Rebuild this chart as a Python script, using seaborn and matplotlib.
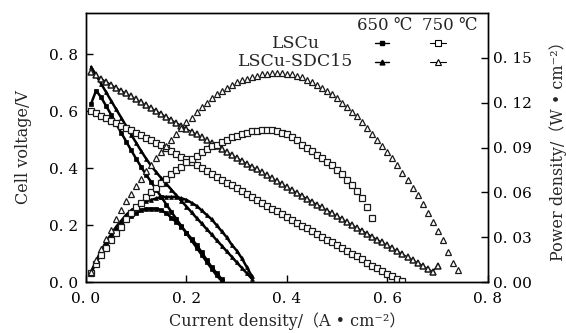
import matplotlib
matplotlib.use('Agg')
import matplotlib.pyplot as plt
import seaborn as sns
from matplotlib.ticker import FuncFormatter, MultipleLocator

# current density grid (A/cm2), each series uses the first len(values) points
current = [0.01, 0.02, 0.03, 0.04, 0.05, 0.06, 0.07, 0.08, 0.09, 0.10,
           0.11, 0.12, 0.13, 0.14, 0.15, 0.16, 0.17, 0.18, 0.19, 0.20,
           0.21, 0.22, 0.23, 0.24, 0.25, 0.26, 0.27, 0.28, 0.29, 0.30,
           0.31, 0.32, 0.33, 0.34, 0.35, 0.36, 0.37, 0.38, 0.39, 0.40,
           0.41, 0.42, 0.43, 0.44, 0.45, 0.46, 0.47, 0.48, 0.49, 0.50,
           0.51, 0.52, 0.53, 0.54, 0.55, 0.56, 0.57, 0.58, 0.59, 0.60,
           0.61, 0.62, 0.63, 0.64, 0.65, 0.66, 0.67, 0.68, 0.69, 0.70,
           0.71, 0.72, 0.73, 0.74]

# 650 C, LSCu (filled squares)
v_lscu_650 = [0.625, 0.672, 0.648, 0.618, 0.587, 0.555, 0.524, 0.493, 0.462, 0.432,
              0.403, 0.376, 0.350, 0.324, 0.298, 0.272, 0.246, 0.221, 0.196, 0.171,
              0.146, 0.121, 0.096, 0.071, 0.047, 0.023, 0.004]
p_lscu_650 = [0.006, 0.013, 0.019, 0.025, 0.030, 0.034, 0.038, 0.042, 0.044, 0.046,
              0.048, 0.049, 0.049, 0.049, 0.048, 0.046, 0.043, 0.040, 0.037, 0.033,
              0.029, 0.025, 0.020, 0.015, 0.010, 0.006, 0.002]

# 650 C, LSCu-SDC15 (filled triangles)
v_sdc_650 = [0.755, 0.726, 0.696, 0.666, 0.636, 0.606, 0.577, 0.547, 0.517, 0.488,
             0.459, 0.432, 0.407, 0.385, 0.364, 0.344, 0.324, 0.304, 0.284, 0.265,
             0.245, 0.225, 0.206, 0.186, 0.167, 0.147, 0.128, 0.108, 0.089, 0.069,
             0.050, 0.031, 0.012]
p_sdc_650 = [0.007, 0.014, 0.021, 0.027, 0.032, 0.037, 0.041, 0.045, 0.048, 0.050,
             0.052, 0.054, 0.055, 0.056, 0.057, 0.057, 0.057, 0.057, 0.056, 0.055,
             0.053, 0.051, 0.048, 0.045, 0.042, 0.038, 0.034, 0.030, 0.025, 0.021,
             0.016, 0.010, 0.004]

# 750 C, LSCu (open squares)
v_lscu_750 = [0.600, 0.592, 0.583, 0.575, 0.566, 0.558, 0.549, 0.541, 0.532, 0.524,
              0.515, 0.507, 0.498, 0.489, 0.480, 0.470, 0.460, 0.450, 0.440, 0.430,
              0.420, 0.409, 0.399, 0.389, 0.379, 0.369, 0.359, 0.349, 0.339, 0.329,
              0.319, 0.309, 0.298, 0.288, 0.278, 0.268, 0.258, 0.248, 0.238, 0.228,
              0.218, 0.208, 0.198, 0.188, 0.178, 0.168, 0.158, 0.148, 0.139, 0.129,
              0.119, 0.109, 0.100, 0.090, 0.080, 0.068, 0.058, 0.048, 0.038, 0.029,
              0.020, 0.012, 0.004]
p_lscu_750 = [0.006, 0.012, 0.018, 0.023, 0.028, 0.033, 0.037, 0.042, 0.046, 0.050,
              0.053, 0.057, 0.060, 0.063, 0.066, 0.069, 0.072, 0.075, 0.077, 0.080,
              0.082, 0.084, 0.087, 0.089, 0.091, 0.092, 0.094, 0.095, 0.097, 0.098,
              0.099, 0.100, 0.101, 0.101, 0.102, 0.102, 0.102, 0.101, 0.100, 0.099,
              0.097, 0.095, 0.092, 0.090, 0.088, 0.085, 0.083, 0.080, 0.078, 0.075,
              0.072, 0.068, 0.065, 0.061, 0.056, 0.050, 0.043]

# 750 C, LSCu-SDC15 (open triangles)
v_sdc_750 = [0.737, 0.725, 0.714, 0.703, 0.693, 0.682, 0.672, 0.662, 0.651, 0.641,
             0.631, 0.620, 0.610, 0.600, 0.590, 0.579, 0.569, 0.559, 0.549, 0.538,
             0.528, 0.518, 0.508, 0.497, 0.487, 0.477, 0.467, 0.456, 0.446, 0.436,
             0.426, 0.415, 0.405, 0.395, 0.385, 0.374, 0.364, 0.354, 0.344, 0.333,
             0.323, 0.313, 0.303, 0.292, 0.282, 0.272, 0.262, 0.251, 0.241, 0.231,
             0.221, 0.210, 0.200, 0.190, 0.180, 0.170, 0.159, 0.149, 0.139, 0.129,
             0.118, 0.108, 0.098, 0.088, 0.078, 0.068, 0.058, 0.047, 0.037, 0.058]
p_sdc_750 = [0.007, 0.015, 0.022, 0.029, 0.035, 0.042, 0.048, 0.054, 0.059, 0.064,
             0.069, 0.074, 0.078, 0.083, 0.087, 0.091, 0.095, 0.099, 0.103, 0.107,
             0.110, 0.114, 0.117, 0.120, 0.123, 0.126, 0.128, 0.130, 0.132, 0.134,
             0.135, 0.136, 0.137, 0.138, 0.139, 0.139, 0.140, 0.140, 0.140, 0.139,
             0.139, 0.138, 0.137, 0.135, 0.134, 0.132, 0.130, 0.128, 0.126, 0.123,
             0.120, 0.117, 0.114, 0.111, 0.107, 0.103, 0.099, 0.095, 0.091, 0.087,
             0.083, 0.078, 0.073, 0.068, 0.063, 0.058, 0.052, 0.046, 0.040, 0.034,
             0.028, 0.020, 0.013, 0.008]

row_labels = ['LSCu', 'LSCu-SDC15']
col_labels = ['650 ℃', '750 ℃']

sns.set_style('ticks')
plt.rcParams['font.family'] = ['DejaVu Serif', 'Noto Sans CJK SC']
plt.rcParams['axes.linewidth'] = 1.0

fig = plt.figure(figsize=(5.66, 3.33), dpi=100)
ax = fig.add_axes([0.152, 0.153, 0.710, 0.808])
ax2 = ax.twinx()

# 650 C curves: dense filled markers look like thick lines
filled = dict(color='black', linewidth=1.8, markersize=2.8, markeredgecolor='black',
              markeredgewidth=0.5, sort=False, estimator=None)
sns.lineplot(x=current[:len(v_lscu_650)], y=v_lscu_650, ax=ax, marker='s', **filled)
sns.lineplot(x=current[:len(v_sdc_650)], y=v_sdc_650, ax=ax, marker='^', **filled)
sns.lineplot(x=current[:len(p_lscu_650)], y=p_lscu_650, ax=ax2, marker='s', **filled)
sns.lineplot(x=current[:len(p_sdc_650)], y=p_sdc_650, ax=ax2, marker='^', **filled)

# 750 C curves: open markers
opened = dict(color='black', linewidth=0, markersize=3.8, markerfacecolor='white',
              markeredgecolor='#1a1a1a', markeredgewidth=0.9, sort=False, estimator=None)
sns.lineplot(x=current[:len(v_lscu_750)], y=v_lscu_750, ax=ax, marker='s', **opened)
sns.lineplot(x=current[:len(p_lscu_750)], y=p_lscu_750, ax=ax2, marker='s', **opened)
sns.lineplot(x=current[:len(p_sdc_750)], y=p_sdc_750, ax=ax2, marker='^', **opened)
# the SDC15 voltage trace looks darker in the original
opened_dark = dict(opened, linewidth=0.9, markeredgewidth=1.1)
sns.lineplot(x=current[:len(v_sdc_750)], y=v_sdc_750, ax=ax, marker='^', **opened_dark)

ax.set_xlim(0, 0.8)
ax.set_ylim(0, 0.944)
ax2.set_ylim(0, 0.18)

fmt1 = FuncFormatter(lambda v, p: f'{v:.1f}'.replace('.', '. '))
fmt2 = FuncFormatter(lambda v, p: f'{v:.2f}'.replace('.', '. '))
ax.xaxis.set_major_locator(MultipleLocator(0.2))
ax.yaxis.set_major_locator(MultipleLocator(0.2))
ax2.set_yticks([0, 0.03, 0.06, 0.09, 0.12, 0.15])
ax.xaxis.set_major_formatter(fmt1)
ax.yaxis.set_major_formatter(fmt1)
ax2.yaxis.set_major_formatter(fmt2)

ax.tick_params(direction='in', length=5, width=1, labelsize=11, top=False, right=False, colors='black')
ax.tick_params(axis='x', pad=7)
ax.tick_params(axis='y', pad=6)
ax2.tick_params(direction='in', length=5, width=1, labelsize=11, pad=4, colors='black')

ax.set_xlabel('Current density/（A • cm⁻²）', fontsize=11.5, labelpad=5)
ax.set_ylabel('Cell voltage/V', fontsize=11.5, labelpad=12)
ax2.set_ylabel('Power density/（W • cm⁻²）', fontsize=11.5, labelpad=12)
for s in list(ax.spines.values()) + list(ax2.spines.values()):
    s.set_color('black')

# hand-made legend: rows are materials, columns are temperatures
ax2.text(0.744, 0.955, col_labels[0], transform=ax2.transAxes, ha='center', va='center', fontsize=12)
ax2.text(0.905, 0.955, col_labels[1], transform=ax2.transAxes, ha='center', va='center', fontsize=12)
row_y = [0.888, 0.818]
row_marker = ['s', '^']
for lab, yy, mk in zip(row_labels, row_y, row_marker):
    ax2.text(0.522, yy, lab, transform=ax2.transAxes, ha='center', va='center', fontsize=12.5)
    ax2.plot([0.718, 0.736, 0.754], [yy, yy, yy], transform=ax2.transAxes, color='black', lw=1,
             marker=mk, markersize=3.5, markevery=[1], clip_on=False)
    ax2.plot([0.856, 0.876, 0.896], [yy, yy, yy], transform=ax2.transAxes, color='black', lw=0.8,
             marker=mk, markersize=4.5, markerfacecolor='white', markeredgewidth=0.8, markevery=[1],
             clip_on=False)

fig.savefig('out.png', dpi=100)
